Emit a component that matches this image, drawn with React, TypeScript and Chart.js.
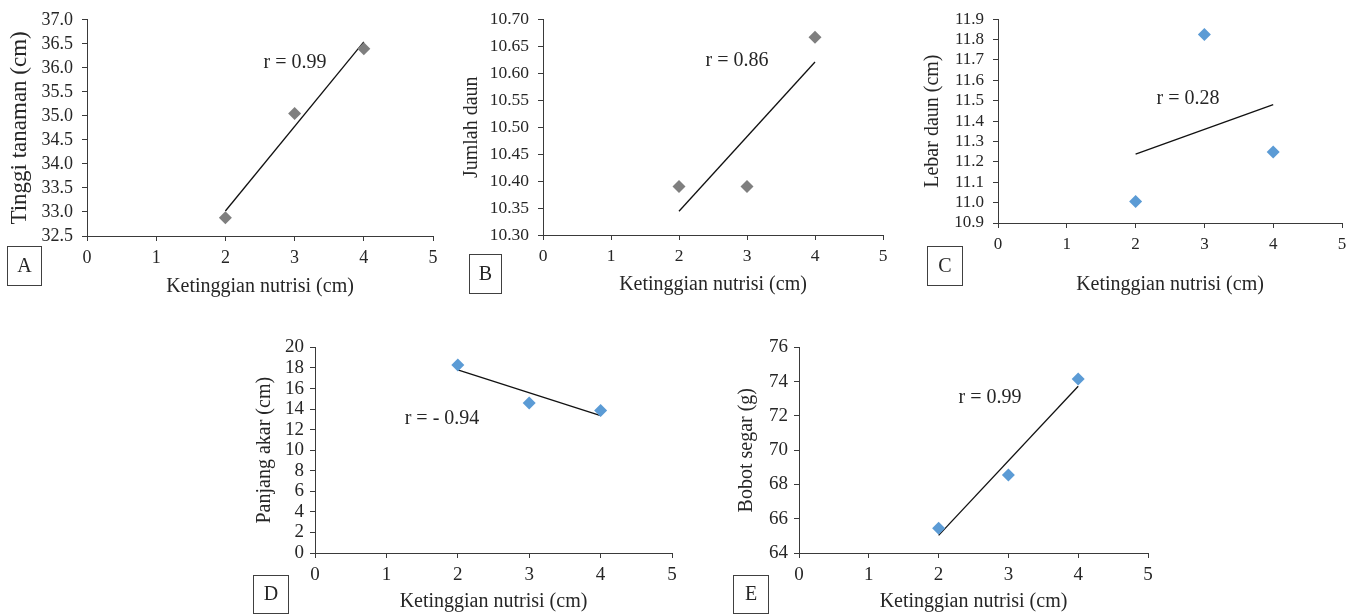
import React, { useEffect, useRef } from "react";
import { Chart, registerables } from "chart.js";

Chart.register(...registerables);

// ---------- data ----------
const xValues = [2, 3, 4];
const xTicks = [0, 1, 2, 3, 4, 5];
const trendX = [2, 4];

const tinggiTanaman = [32.88, 35.05, 36.4];
const jumlahDaun = [10.39, 10.39, 10.667];
const lebarDaun = [11.005, 11.825, 11.248];
const panjangAkar = [18.3, 14.6, 13.85];
const bobotSegar = [65.45, 68.55, 74.15];

const trendA = [33.02, 36.54];
const trendB = [10.344, 10.621];
const trendC = [11.238, 11.481];
const trendD = [17.81, 13.36];
const trendE = [65.03, 73.73];

const yTicksA = [32.5, 33.0, 33.5, 34.0, 34.5, 35.0, 35.5, 36.0, 36.5, 37.0];
const yTicksB = [10.3, 10.35, 10.4, 10.45, 10.5, 10.55, 10.6, 10.65, 10.7];
const yTicksC = [10.9, 11.0, 11.1, 11.2, 11.3, 11.4, 11.5, 11.6, 11.7, 11.8, 11.9];
const yTicksD = [0, 2, 4, 6, 8, 10, 12, 14, 16, 18, 20];
const yTicksE = [64, 66, 68, 70, 72, 74, 76];

const xTitle = "Ketinggian nutrisi (cm)";

// ---------- styles ----------
const FONT = "'Liberation Serif', 'Times New Roman', serif";
const TEXT = "#262626";
const AXIS = "#3a3a3a";
const GRAY = "#7f7f7f";
const BLUE = "#5b9bd5";

type Panel = {
  id: string;
  left: number;
  top: number;
  width: number;
  height: number;
  plot: { left: number; top: number; right: number; bottom: number };
  yTitle: string;
  yTitleX: number;
  yTitleSize: number;
  xTitlePad: number;
  tickSize: number;
  yTickPad: number;
  yTicks: number[];
  decimals: number;
  values: number[];
  trend: number[];
  color: string;
  rText: string;
  rX: number;
  rY: number;
  letter: string;
  box: { x: number; y: number; w: number; h: number };
};

const panels: Panel[] = [
  {
    id: "A", left: 0, top: 0, width: 450, height: 300,
    plot: { left: 87, top: 19, right: 433, bottom: 236 },
    yTitle: "Tinggi tanaman (cm)", yTitleX: 20, yTitleSize: 23, xTitlePad: 1,
    tickSize: 18, yTickPad: 9,
    yTicks: yTicksA, decimals: 1, values: tinggiTanaman, trend: trendA, color: GRAY,
    rText: "r = 0.99", rX: 295, rY: 63, letter: "A",
    box: { x: 7, y: 246, w: 34, h: 39 },
  },
  {
    id: "B", left: 450, top: 0, width: 450, height: 300,
    plot: { left: 93, top: 16, right: 433, bottom: 235 },
    yTitle: "Jumlah daun", yTitleX: 22, yTitleSize: 20, xTitlePad: 3,
    tickSize: 17.5, yTickPad: 9,
    yTicks: yTicksB, decimals: 2, values: jumlahDaun, trend: trendB, color: GRAY,
    rText: "r = 0.86", rX: 287, rY: 61, letter: "B",
    box: { x: 19, y: 254, w: 32, h: 39 },
  },
  {
    id: "C", left: 900, top: 0, width: 449, height: 300,
    plot: { left: 98, top: 16, right: 442, bottom: 223 },
    yTitle: "Lebar daun (cm)", yTitleX: 33, yTitleSize: 20, xTitlePad: 3,
    tickSize: 17, yTickPad: 9,
    yTicks: yTicksC, decimals: 1, values: lebarDaun, trend: trendC, color: BLUE,
    rText: "r = 0.28", rX: 288, rY: 99, letter: "C",
    box: { x: 27, y: 246, w: 35, h: 39 },
  },
  {
    id: "D", left: 240, top: 330, width: 450, height: 284,
    plot: { left: 75, top: 16, right: 432, bottom: 223 },
    yTitle: "Panjang akar (cm)", yTitleX: 25, yTitleSize: 20, xTitlePad: 0,
    tickSize: 19, yTickPad: 6,
    yTicks: yTicksD, decimals: 0, values: panjangAkar, trend: trendD, color: BLUE,
    rText: "r = - 0.94", rX: 202, rY: 89, letter: "D",
    box: { x: 13, y: 245, w: 35, h: 38 },
  },
  {
    id: "E", left: 720, top: 330, width: 450, height: 284,
    plot: { left: 79, top: 16, right: 428, bottom: 223 },
    yTitle: "Bobot segar (g)", yTitleX: 27, yTitleSize: 20, xTitlePad: 0,
    tickSize: 19, yTickPad: 6,
    yTicks: yTicksE, decimals: 0, values: bobotSegar, trend: trendE, color: BLUE,
    rText: "r = 0.99", rX: 270, rY: 68, letter: "E",
    box: { x: 13, y: 245, w: 35, h: 38 },
  },
];

function PanelChart({ p }: { p: Panel }) {
  const ref = useRef<HTMLCanvasElement | null>(null);

  useEffect(() => {
    if (!ref.current) return;
    const lh = (s: number) => s * 1.2;

    const annot = {
      id: "annot" + p.id,
      afterDraw(chart: any) {
        const ctx = chart.ctx as CanvasRenderingContext2D;
        ctx.save();
        ctx.fillStyle = TEXT;
        ctx.font = `20px ${FONT}`;
        ctx.textAlign = "center";
        ctx.textBaseline = "middle";
        ctx.fillText(p.rText, p.rX, p.rY);
        ctx.strokeStyle = "#404040";
        ctx.lineWidth = 1;
        ctx.strokeRect(p.box.x + 0.5, p.box.y + 0.5, p.box.w, p.box.h);
        ctx.fillText(p.letter, p.box.x + p.box.w / 2 + 0.5, p.box.y + p.box.h / 2 + 1);
        ctx.restore();
      },
    };

    const chart = new Chart(ref.current, {
      type: "scatter",
      data: {
        datasets: [
          {
            data: xValues.map((x, i) => ({ x, y: p.values[i] })),
            pointStyle: "rectRot",
            pointRadius: 6.5,
            pointBackgroundColor: p.color,
            pointBorderColor: p.color,
            pointBorderWidth: 0,
            showLine: false,
          },
          {
            data: trendX.map((x, i) => ({ x, y: p.trend[i] })),
            showLine: true,
            borderColor: "#111",
            borderWidth: 1.3,
            pointRadius: 0,
            fill: false,
          },
        ],
      },
      options: {
        animation: false,
        responsive: false,
        devicePixelRatio: 1,
        layout: {
          padding: { left: 0, top: p.plot.top, right: p.width - p.plot.right, bottom: 0 },
        },
        plugins: { legend: { display: false }, tooltip: { enabled: false } },
        scales: {
          x: {
            type: "linear",
            position: "bottom",
            min: 0,
            max: 5,
            afterBuildTicks: (s: any) => {
              s.ticks = xTicks.map((v) => ({ value: v }));
            },
            afterFit: (s: any) => {
              s.height = p.height - p.plot.bottom;
              s.paddingLeft = 0;
              s.paddingRight = 0;
            },
            ticks: {
              font: { family: FONT, size: p.tickSize },
              color: TEXT,
              padding: 6,
              maxRotation: 0,
              autoSkip: false,
              callback: (v: any) => String(v),
            },
            grid: { drawOnChartArea: false, drawTicks: true, tickLength: 5, color: AXIS, lineWidth: 1 },
            border: { display: true, color: AXIS, width: 1 },
            title: {
              display: true,
              text: xTitle,
              font: { family: FONT, size: 20 },
              color: TEXT,
              padding: { top: 0, bottom: p.xTitlePad },
            },
          },
          y: {
            type: "linear",
            position: "left",
            min: p.yTicks[0],
            max: p.yTicks[p.yTicks.length - 1],
            afterBuildTicks: (s: any) => {
              s.ticks = p.yTicks.map((v) => ({ value: v }));
            },
            afterFit: (s: any) => {
              s.width = p.plot.left;
            },
            ticks: {
              font: { family: FONT, size: p.tickSize },
              color: TEXT,
              padding: p.yTickPad,
              autoSkip: false,
              callback: (v: any) => Number(v).toFixed(p.decimals),
            },
            grid: { drawOnChartArea: false, drawTicks: true, tickLength: 5, color: AXIS, lineWidth: 1 },
            border: { display: true, color: AXIS, width: 1 },
            title: {
              display: true,
              text: p.yTitle,
              font: { family: FONT, size: p.yTitleSize },
              color: TEXT,
              padding: { top: p.yTitleX - lh(p.yTitleSize) / 2, bottom: 0 },
            },
          },
        },
      } as any,
      plugins: [annot],
    });

    return () => chart.destroy();
  }, [p]);

  return (
    <canvas
      ref={ref}
      width={p.width}
      height={p.height}
      style={{ position: "absolute", left: p.left, top: p.top, width: p.width, height: p.height }}
    />
  );
}

export default function App() {
  return (
    <div style={{ position: "absolute", left: 0, top: 0, width: 1349, height: 614, background: "#fff" }}>
      {panels.map((p) => (
        <PanelChart key={p.id} p={p} />
      ))}
    </div>
  );
}
